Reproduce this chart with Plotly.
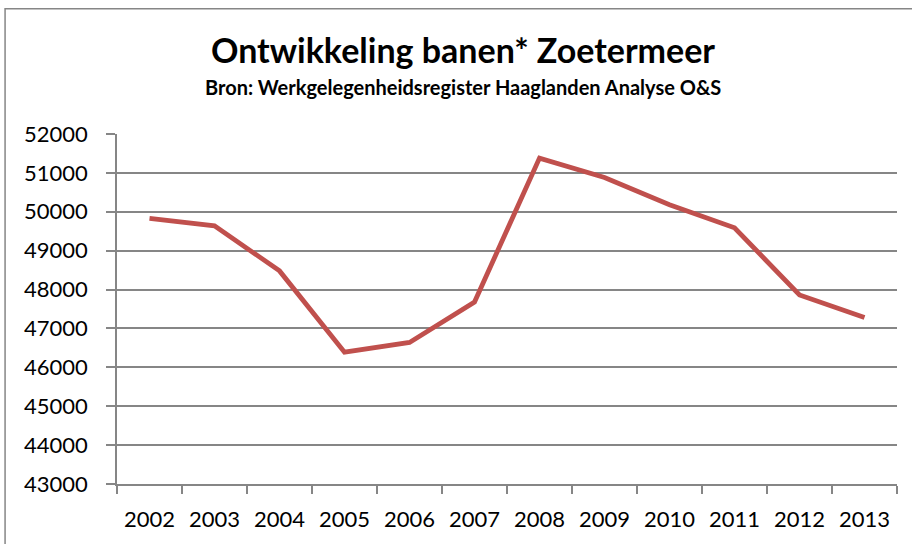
import plotly.graph_objects as go

years = ["2002", "2003", "2004", "2005", "2006", "2007", "2008", "2009", "2010", "2011", "2012", "2013"]
banen = [49830, 49640, 48480, 46390, 46640, 47680, 51380, 50880, 50180, 49590, 47860, 47280]
y_ticks = [43000, 44000, 45000, 46000, 47000, 48000, 49000, 50000, 51000, 52000]

title_text = "Ontwikkeling banen* Zoetermeer"
subtitle_text = "Bron: Werkgelegenheidsregister Haaglanden Analyse O&S"

grid = "#868686"
font = "Lato"

fig = go.Figure()
fig.add_trace(go.Scatter(
    x=years, y=banen, mode="lines",
    line=dict(color="#C0504D", width=4.8),
    showlegend=False, hoverinfo="x+y",
))

fig.update_layout(
    width=912, height=544,
    margin=dict(l=117, r=15, t=134, b=60),
    paper_bgcolor="white", plot_bgcolor="white",
    font=dict(family=font, color="black"),
    xaxis=dict(
        type="category", tickson="boundaries",
        range=[-0.5, len(years) - 0.5],
        ticks="outside", ticklen=8, tickcolor=grid, tickwidth=1.5,
        showline=True, linecolor=grid, linewidth=1.5,
        showgrid=False, zeroline=False, automargin=False,
        tickfont=dict(family=font, size=22, color="black"),
        ticklabelstandoff=15,
    ),
    yaxis=dict(
        range=[43000, 52000], tickvals=y_ticks,
        ticktext=[str(v) for v in y_ticks],
        ticks="outside", ticklen=9, tickcolor=grid, tickwidth=1.5,
        showline=True, linecolor=grid, linewidth=1.5,
        showgrid=True, gridcolor=grid, gridwidth=1.5,
        zeroline=False, automargin=False,
        tickfont=dict(family=font, size=22, color="black"),
        ticklabelstandoff=14,
    ),
    shapes=[dict(
        type="rect", xref="paper", yref="paper",
        x0=-0.1435, x1=1.2, y0=-0.5, y1=1.358,
        line=dict(color=grid, width=1.5), fillcolor="rgba(0,0,0,0)",
        layer="below",
    )],
    annotations=[
        dict(text="<b>" + title_text + "</b>", xref="paper", yref="paper",
             x=(463 - 117) / 780, y=(484.3 - 49) / 350.3,
             xanchor="center", yanchor="middle", showarrow=False,
             font=dict(family=font, size=34, color="black")),
        dict(text="<b>" + subtitle_text + "</b>", xref="paper", yref="paper",
             x=(463 - 117) / 780, y=(484.3 - 87) / 350.3,
             xanchor="center", yanchor="middle", showarrow=False,
             font=dict(family=font, size=20, color="black")),
    ],
)

fig.write_html(
    "out.html",
    config={"displayModeBar": False},
    post_script="document.body.style.margin='0';document.body.style.overflow='hidden';",
)
